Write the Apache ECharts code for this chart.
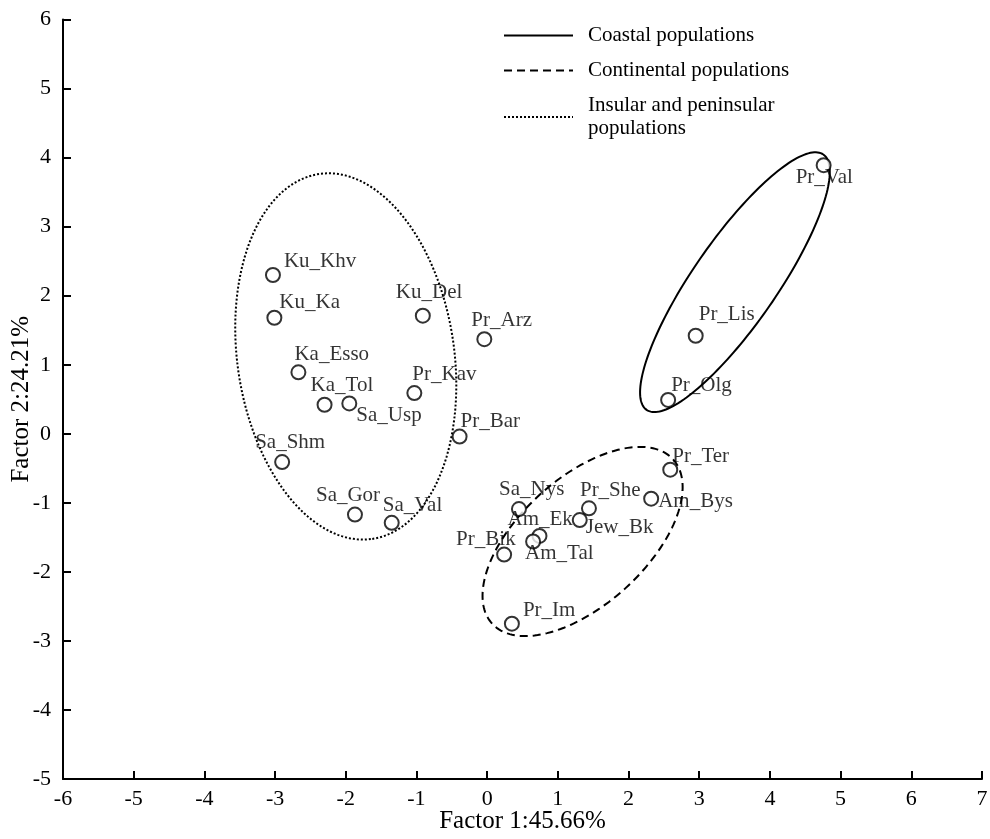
<!DOCTYPE html>
<html>
<head>
<meta charset="utf-8">
<script src="https://cdn.jsdelivr.net/npm/echarts@6/dist/echarts.min.js"></script>
<style>html,body{margin:0;padding:0;background:#fff}#c{width:990px;height:839px}</style>
</head>
<body>
<div id="c"></div>
<script>
// ---- data ----
var pointNames = ['Pr_Val','Pr_Lis','Pr_Olg','Pr_Ter','Am_Bys','Pr_She','Jew_Bk','Sa_Nys','Am_Ek','Am_Tal','Pr_Bik','Pr_Im','Pr_Bar','Pr_Arz','Ku_Del','Pr_Kav','Ku_Khv','Ku_Ka','Ka_Esso','Ka_Tol','Sa_Usp','Sa_Shm','Sa_Gor','Sa_Val'];
var factor1 = [4.76, 2.95, 2.56, 2.59, 2.32, 1.44, 1.31, 0.45, 0.74, 0.65, 0.24, 0.35, -0.39, -0.04, -0.91, -1.03, -3.03, -3.01, -2.67, -2.30, -1.95, -2.90, -1.87, -1.35];
var factor2 = [3.89, 1.42, 0.49, -0.52, -0.94, -1.08, -1.25, -1.09, -1.48, -1.56, -1.75, -2.75, -0.04, 1.37, 1.71, 0.59, 2.30, 1.68, 0.89, 0.42, 0.44, -0.41, -1.17, -1.29];

var groupNames = ['Coastal populations', 'Continental populations', 'Insular and peninsular\npopulations'];
var ellipseCenter = [[3.505, 2.196], [1.35, -1.56], [-2.00, 1.12]];
var ellipseMajor = [[1.250, 1.849], [1.28, 1.19], [0.375, -2.643]];
var ellipseMinor = [[0.488, -0.346], [0.604, -0.679], [1.518, 0.226]];

var xTicks = {min: -6, max: 7, step: 1};
var yTicks = {min: -5, max: 6, step: 1};
var xName = 'Factor 1:45.66%';
var yName = 'Factor 2:24.21%';

// ---- layout / style (not data) ----
var labelOffsets = {
  'Pr_Val': [-27, 13], 'Pr_Lis': [4, -20], 'Pr_Olg': [4, -13], 'Pr_Ter': [3, -12],
  'Am_Bys': [8, 4], 'Pr_She': [-8, -17], 'Jew_Bk': [7, 8], 'Sa_Nys': [-19, -19],
  'Am_Ek': [-31, -15], 'Am_Tal': [-7, 13], 'Pr_Bik': [-47, -14], 'Pr_Im': [12, -12],
  'Pr_Bar': [2, -14], 'Pr_Arz': [-12, -18], 'Ku_Del': [-26, -22], 'Pr_Kav': [-1, -18],
  'Ku_Khv': [12, -12], 'Ku_Ka': [6, -14], 'Ka_Esso': [-3, -17], 'Ka_Tol': [-13, -18],
  'Sa_Usp': [8, 13], 'Sa_Shm': [-26, -19], 'Sa_Gor': [-38, -18], 'Sa_Val': [-8, -16]
};
var lineTypes = ['solid', [8, 5], [2, 2]];
var FONT = '"Liberation Serif", "DejaVu Serif", serif';
var SYM = 14;

var scatterData = pointNames.map(function (n, i) {
  var o = labelOffsets[n] || [8, -12];
  return {
    name: n,
    value: [factor1[i], factor2[i]],
    label: {position: [o[0] + SYM / 2, o[1] + SYM / 2]}
  };
});

var ellipseData = ellipseCenter.map(function (c, i) { return [c[0], c[1], i]; });

var series = [];
groupNames.forEach(function (g, i) {
  series.push({
    name: g, type: 'line', data: [], symbol: 'none', showSymbol: false,
    color: '#000',
    itemStyle: {color: '#000', opacity: 0},
    lineStyle: {color: '#000', width: 2, type: lineTypes[i]}
  });
});
series.push({
  name: 'ellipses', type: 'custom', coordinateSystem: 'cartesian2d', silent: true,
  data: ellipseData,
  renderItem: function (params, api) {
    var k = api.value(2);
    var c = ellipseCenter[k], a = ellipseMajor[k], b = ellipseMinor[k];
    var pts = [];
    var N = 180;
    for (var j = 0; j <= N; j++) {
      var t = 2 * Math.PI * j / N;
      var ct = Math.cos(t), st = Math.sin(t);
      pts.push(api.coord([c[0] + a[0] * ct + b[0] * st, c[1] + a[1] * ct + b[1] * st]));
    }
    var lt = lineTypes[k];
    return {
      type: 'polyline',
      shape: {points: pts},
      style: {fill: null, stroke: '#000', lineWidth: 2, lineDash: lt === 'solid' ? null : lt}
    };
  },
  z: 1
});
series.push({
  name: 'points', type: 'scatter', data: scatterData,
  symbol: 'circle', symbolSize: SYM,
  itemStyle: {color: '#fff', borderColor: '#000', borderWidth: 2},
  label: {
    show: true, formatter: '{b}', align: 'left', verticalAlign: 'middle',
    color: '#000', fontFamily: FONT, fontSize: 21
  },
  z: 3
});

var chart = echarts.init(document.getElementById('c'), null, {renderer: 'canvas'});
chart.setOption({
  animation: false,
  backgroundColor: '#fff',
  grid: {left: 63, right: 8, top: 19.5, bottom: 60, containLabel: false, outerBoundsMode: 'none'},
  legend: {
    data: groupNames, orient: 'vertical', left: 503, top: 24, padding: 0,
    itemWidth: 69, itemHeight: 14, itemGap: 12,
    itemStyle: {opacity: 0},
    textStyle: {fontFamily: FONT, fontSize: 21, color: '#000', lineHeight: 23, padding: [0, 0, 0, 10]},
    selectedMode: false
  },
  xAxis: {
    type: 'value', min: xTicks.min, max: xTicks.max, interval: xTicks.step,
    name: xName, nameLocation: 'middle', nameGap: 30, nameMoveOverlap: false,
    nameTextStyle: {fontFamily: FONT, fontSize: 25, color: '#000'},
    axisLine: {onZero: false, lineStyle: {color: '#000', width: 2}},
    axisTick: {inside: true, length: 8, lineStyle: {color: '#000', width: 2}},
    axisLabel: {fontFamily: FONT, fontSize: 22, color: '#000', margin: 9},
    splitLine: {show: false}
  },
  yAxis: {
    type: 'value', min: yTicks.min, max: yTicks.max, interval: yTicks.step,
    name: yName, nameLocation: 'middle', nameGap: 29, nameMoveOverlap: false,
    nameTextStyle: {fontFamily: FONT, fontSize: 25, color: '#000'},
    axisLine: {onZero: false, lineStyle: {color: '#000', width: 2}},
    axisTick: {inside: true, length: 8, lineStyle: {color: '#000', width: 2}},
    axisLabel: {fontFamily: FONT, fontSize: 22, color: '#000', margin: 12},
    splitLine: {show: false}
  },
  series: series
});
</script>
</body>
</html>
